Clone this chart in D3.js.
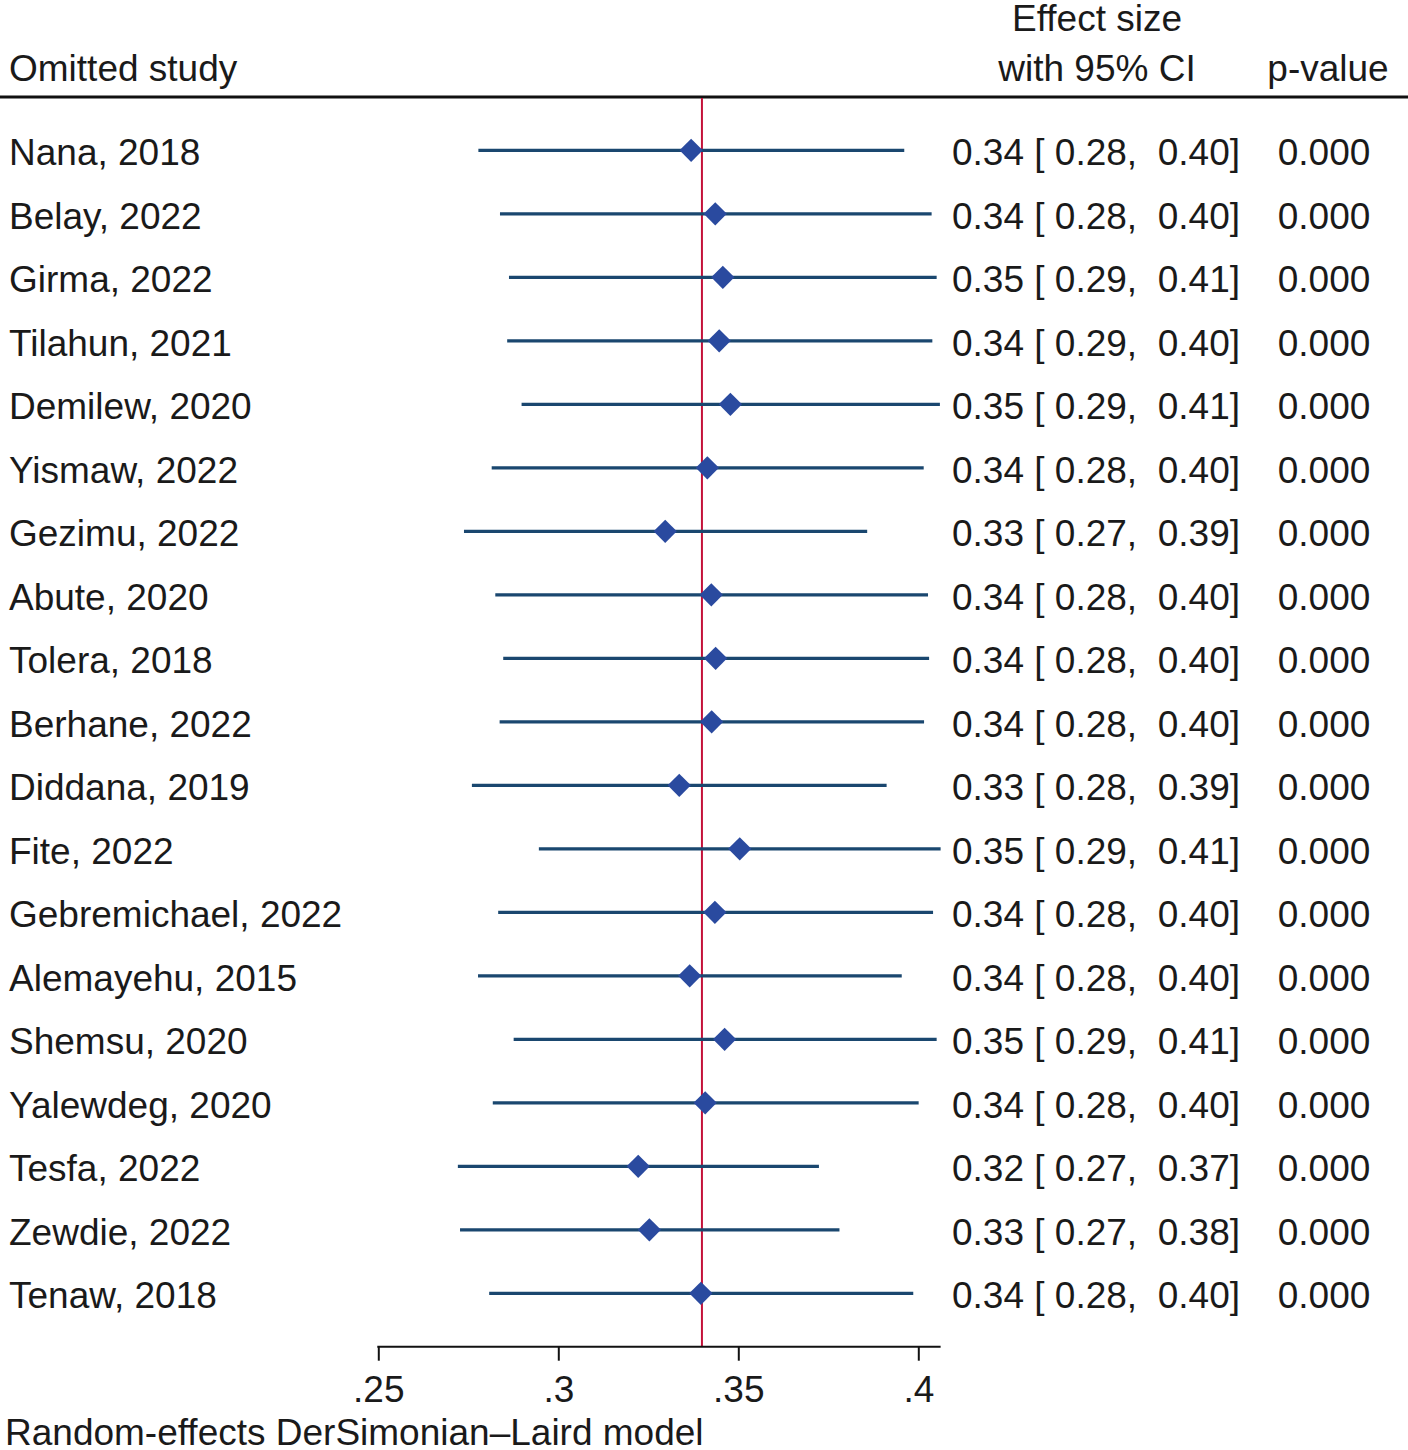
<!DOCTYPE html>
<html>
<head>
<meta charset="utf-8">
<script src="https://cdn.jsdelivr.net/npm/d3@7"></script>
<style>
  body { margin: 0; background: #fff; }
  svg text { font-family: "Liberation Sans", Arial, Helvetica, sans-serif; fill: #1a1a1a; }
</style>
</head>
<body>
<svg id="chart"></svg>
<script>
// leave-one-out results
var studies = ["Nana, 2018", "Belay, 2022", "Girma, 2022", "Tilahun, 2021", "Demilew, 2020",
    "Yismaw, 2022", "Gezimu, 2022", "Abute, 2020", "Tolera, 2018", "Berhane, 2022",
    "Diddana, 2019", "Fite, 2022", "Gebremichael, 2022", "Alemayehu, 2015", "Shemsu, 2020",
    "Yalewdeg, 2020", "Tesfa, 2022", "Zewdie, 2022", "Tenaw, 2018"];
var effect = [0.3369, 0.3436, 0.3457, 0.3447, 0.3478, 0.3414, 0.3297, 0.3425, 0.3437, 0.3426,
    0.3336, 0.3504, 0.3435, 0.3365, 0.3462, 0.3408, 0.3222, 0.3253, 0.3396];
var lower = [0.2778, 0.2838, 0.2863, 0.2858, 0.2898, 0.2815, 0.2738, 0.2825, 0.2847, 0.2837,
    0.2760, 0.2946, 0.2833, 0.2777, 0.2876, 0.2818, 0.2721, 0.2727, 0.2808];
var upper = [0.3961, 0.4037, 0.4051, 0.4039, 0.4060, 0.4015, 0.3858, 0.4027, 0.4030, 0.4016,
    0.3912, 0.4062, 0.4041, 0.3954, 0.4051, 0.4001, 0.3724, 0.3781, 0.3986];
var pValues = ["0.000", "0.000", "0.000", "0.000", "0.000", "0.000", "0.000", "0.000", "0.000", "0.000",
    "0.000", "0.000", "0.000", "0.000", "0.000", "0.000", "0.000", "0.000", "0.000"];
var overall = 0.3399;
var xTicks = [0.25, 0.3, 0.35, 0.4];

var width = 1408, height = 1450;
var fontSize = 37;

var data = studies.map(function(s, i) {
    return { study: s, es: effect[i], lo: lower[i], hi: upper[i], p: pValues[i] };
});

var svg = d3.select("#chart")
    .attr("width", width)
    .attr("height", height);

var xScale = d3.scaleLinear()
    .domain([0.25, 0.4])
    .range([378.3, 918.3]);

var yScale = d3.scalePoint()
    .domain(studies)
    .range([150.3, 1293.3]);

var axisY = 1346.7;
var f2 = d3.format(".2f");

// header
var header = svg.append("g").attr("font-size", fontSize);
header.append("text").attr("x", 9).attr("y", 81).text("Omitted study");
header.append("text").attr("x", 1097).attr("y", 31).attr("text-anchor", "middle").text("Effect size");
header.append("text").attr("x", 1097).attr("y", 81).attr("text-anchor", "middle").text("with 95% CI");
header.append("text").attr("x", 1328).attr("y", 81).attr("text-anchor", "middle").text("p-value");

svg.append("line")
    .attr("x1", 0).attr("x2", width)
    .attr("y1", 97).attr("y2", 97)
    .attr("stroke", "#111").attr("stroke-width", 3);

// overall effect line
svg.append("line")
    .attr("x1", xScale(overall)).attr("x2", xScale(overall))
    .attr("y1", 98).attr("y2", axisY)
    .attr("stroke", "#c4123a").attr("stroke-width", 2);

// CI lines
svg.selectAll("line.ci")
    .data(data)
    .enter()
    .append("line")
    .attr("class", "ci")
    .attr("x1", d => xScale(d.lo))
    .attr("x2", d => xScale(d.hi))
    .attr("y1", d => yScale(d.study))
    .attr("y2", d => yScale(d.study))
    .attr("stroke", "#1a476f")
    .attr("stroke-width", 3.2);

// point estimates
var diamond = d3.symbol().type(d3.symbolSquare).size(270);
svg.selectAll("path.es")
    .data(data)
    .enter()
    .append("path")
    .attr("class", "es")
    .attr("d", diamond)
    .attr("transform", d => `translate(${xScale(d.es)}, ${yScale(d.study)}) rotate(45)`)
    .attr("fill", "#2a4a9f");

// row texts
var rows = svg.append("g").attr("font-size", fontSize);
rows.selectAll("text.study")
    .data(data)
    .enter()
    .append("text")
    .attr("x", 9)
    .attr("y", d => yScale(d.study) + 15)
    .text(d => d.study);

rows.selectAll("text.ci")
    .data(data)
    .enter()
    .append("text")
    .attr("x", 952)
    .attr("y", d => yScale(d.study) + 15)
    .attr("xml:space", "preserve")
    .style("white-space", "pre")
    .text(d => `${f2(d.es)} [ ${f2(d.lo)},  ${f2(d.hi)}]`);

rows.selectAll("text.p")
    .data(data)
    .enter()
    .append("text")
    .attr("x", 1324)
    .attr("y", d => yScale(d.study) + 15)
    .attr("text-anchor", "middle")
    .text(d => d.p);

// x axis
var xAxis = svg.append("g")
    .attr("transform", `translate(0, ${axisY})`)
    .call(d3.axisBottom(xScale)
        .tickValues(xTicks)
        .tickSize(14)
        .tickSizeOuter(0)
        .tickPadding(15)
        .tickFormat(d => d3.format(".2~f")(d).replace(/^0/, "")));

xAxis.select(".domain").remove();
xAxis.selectAll(".tick line").attr("stroke", "#111").attr("stroke-width", 2);
xAxis.selectAll(".tick text")
    .attr("font-size", fontSize)
    .attr("fill", "#1a1a1a")
    .style("font-family", "'Liberation Sans', Arial, sans-serif");

svg.append("line")
    .attr("x1", xScale(0.25) - 1).attr("x2", xScale(d3.max(upper)))
    .attr("y1", axisY).attr("y2", axisY)
    .attr("stroke", "#111").attr("stroke-width", 2);

svg.append("text")
    .attr("x", 5)
    .attr("y", 1445)
    .attr("font-size", fontSize)
    .text("Random-effects DerSimonian\u2013Laird model");
</script>
</body>
</html>
